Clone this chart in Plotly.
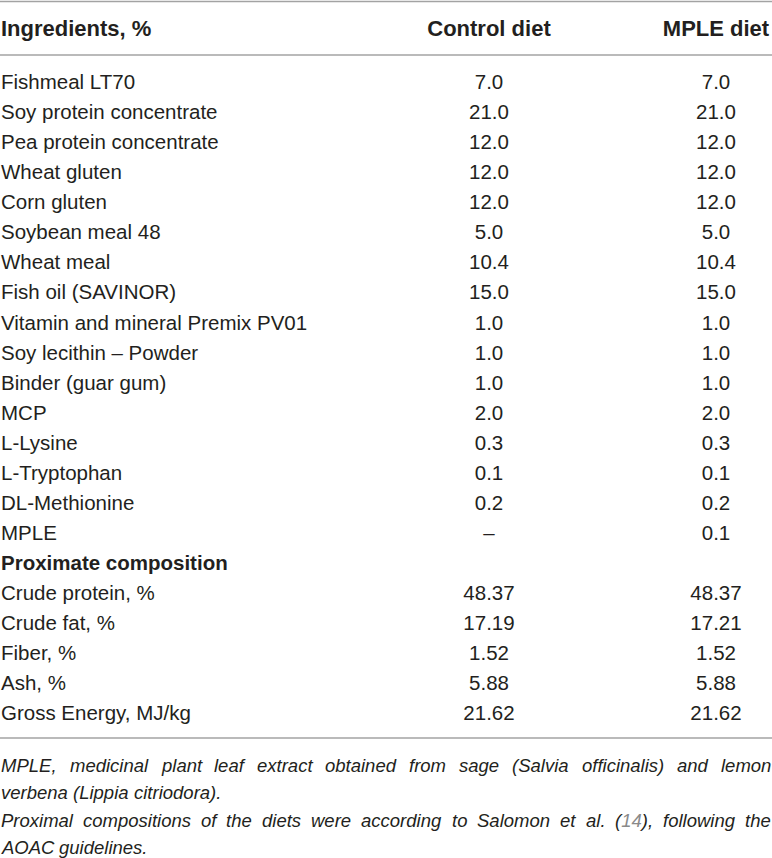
import plotly.graph_objects as go

# table content
headers = ["Ingredients, %", "Control diet", "MPLE diet"]

ingredients = ["Fishmeal LT70", "Soy protein concentrate", "Pea protein concentrate",
               "Wheat gluten", "Corn gluten", "Soybean meal 48", "Wheat meal",
               "Fish oil (SAVINOR)", "Vitamin and mineral Premix PV01",
               "Soy lecithin – Powder", "Binder (guar gum)", "MCP", "L-Lysine",
               "L-Tryptophan", "DL-Methionine", "MPLE"]
control_diet = ["7.0", "21.0", "12.0", "12.0", "12.0", "5.0", "10.4", "15.0",
                "1.0", "1.0", "1.0", "2.0", "0.3", "0.1", "0.2", "–"]
mple_diet = ["7.0", "21.0", "12.0", "12.0", "12.0", "5.0", "10.4", "15.0",
             "1.0", "1.0", "1.0", "2.0", "0.3", "0.1", "0.2", "0.1"]

section_title = "Proximate composition"
proximate = ["Crude protein, %", "Crude fat, %", "Fiber, %", "Ash, %", "Gross Energy, MJ/kg"]
proximate_control = ["48.37", "17.19", "1.52", "5.88", "21.62"]
proximate_mple = ["48.37", "17.21", "1.52", "5.88", "21.62"]

footnote_lines = [
    "MPLE, medicinal plant leaf extract obtained from sage (Salvia officinalis) and lemon",
    "verbena (Lippia citriodora).",
    "Proximal compositions of the diets were according to Salomon et al. (14), following the",
    "AOAC guidelines.",
]
justified = [True, False, True, False]
ref_number = "14"

# page geometry (pixels)
W, H = 772, 858
ROW0, ROW_H = 84, 30.05
HEADER_Y = 30
RULE_TOP, RULE_HEAD, RULE_BOTTOM = 1.5, 55, 738
NOTE_Y0, NOTE_H = 765, 27.6
COL_X = [1, 489, 716]
TEXT = "#231f20"
RULE = "#a3a3a3"
FONT = "Liberation Sans"
BODY_SIZE = 20.5
HEAD_SIZE = 22
NOTE_SIZE = 18.5

# Arial / Liberation advance widths (1/1000 em) for justifying the notes
CHAR_W = {" ": 278, "(": 333, ")": 333, ",": 278, ".": 278, "1": 556, "4": 556,
          "A": 667, "C": 722, "E": 667, "L": 556, "M": 833, "O": 778, "P": 667,
          "S": 667, "a": 556, "b": 556, "c": 500, "d": 556, "e": 556, "f": 278,
          "g": 556, "h": 556, "i": 222, "l": 222, "m": 833, "n": 556, "o": 556,
          "p": 556, "r": 333, "s": 500, "t": 278, "u": 556, "v": 500, "w": 722,
          "x": 500, "y": 500}


def text_width(s, size):
    return sum(CHAR_W.get(c, 556) for c in s) * size / 1000


def row_of(px):
    # convert a pixel height to the row-unit y axis
    return (px - ROW0) / ROW_H


labels = ingredients + [section_title] + proximate
col2 = control_diet + [""] + proximate_control
col3 = mple_diet + [""] + proximate_mple
rows = list(range(len(labels)))
label_text = ["<b>%s</b>" % t if t == section_title else t for t in labels]

fig = go.Figure()

fig.add_trace(go.Scatter(
    x=[COL_X[0]] * len(rows), y=rows, text=label_text, mode="text",
    textposition="middle right", marker=dict(size=0),
    textfont=dict(family=FONT, size=BODY_SIZE, color=TEXT), hoverinfo="skip"))
for cx, vals in [(COL_X[1], col2), (COL_X[2], col3)]:
    fig.add_trace(go.Scatter(
        x=[cx] * len(rows), y=rows, text=vals, mode="text",
        textposition="middle center",
        textfont=dict(family=FONT, size=BODY_SIZE, color=TEXT), hoverinfo="skip"))

# header
fig.add_trace(go.Scatter(
    x=COL_X, y=[row_of(HEADER_Y)] * 3, text=["<b>%s</b>" % h for h in headers],
    mode="text", textposition=["middle right", "middle center", "middle center"],
    marker=dict(size=0),
    textfont=dict(family=FONT, size=HEAD_SIZE, color=TEXT), hoverinfo="skip"))

# rules
for ry in [RULE_TOP, RULE_HEAD, RULE_BOTTOM]:
    fig.add_shape(type="line", xref="paper", x0=0, x1=1, yref="y",
                  y0=row_of(ry), y1=row_of(ry), line=dict(color=RULE, width=1.5))

# footnotes, word by word so the long lines can be justified
for k, line in enumerate(footnote_lines):
    words = line.split(" ")
    widths = [text_width(w, NOTE_SIZE) for w in words]
    if justified[k]:
        gap = (W - 2 - sum(widths)) / (len(words) - 1)
    else:
        gap = text_width(" ", NOTE_SIZE)
    x = 0
    for w, ww in zip(words, widths):
        shown = w.replace(ref_number, "<span style='color:#8a8a8a'>%s</span>" % ref_number)
        fig.add_annotation(
            x=x, y=row_of(NOTE_Y0 + k * NOTE_H), xref="x", yref="y",
            text="<i>%s</i>" % shown, showarrow=False, xanchor="left",
            yanchor="middle", borderpad=0,
            font=dict(family=FONT, size=NOTE_SIZE, color=TEXT))
        x += ww + gap

fig.update_xaxes(range=[0, W], visible=False, fixedrange=True)
fig.update_yaxes(range=[row_of(H), row_of(0)], visible=False, fixedrange=True)
fig.update_layout(
    width=W, height=H, margin=dict(l=0, r=0, t=0, b=0),
    paper_bgcolor="white", plot_bgcolor="white", showlegend=False)

fig.write_html("out.html", config={"displayModeBar": False},
               post_script="document.body.style.margin='0';")
